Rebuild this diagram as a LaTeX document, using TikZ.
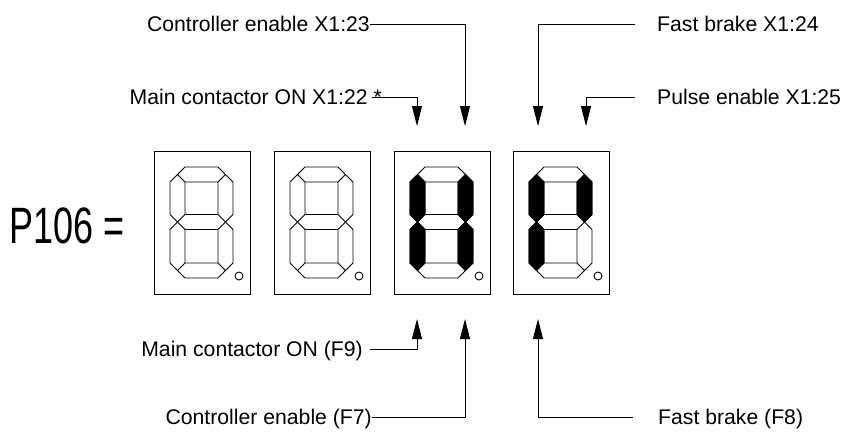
\documentclass[tikz,border=0pt]{standalone}
\usepackage{fontspec}
\setmainfont{Liberation Sans}
\usetikzlibrary{arrows.meta}
\newcommand\hseg[1]{(23.5,#1) -- ++(7.5,-7.5) -- ++(33,0) -- ++(7.5,7.5) -- ++(-7.5,7.5) -- ++(-33,0) -- cycle}
\newcommand\vseg[3]{(#1,#2) -- ++(7.5,7.5) -- ({#1+7.5},{#3-7.5}) -- (#1,#3) -- ({#1-7.5},{#3-7.5}) -- ({#1-7.5},{#2+7.5}) -- cycle}
\newcommand\allsegs{\hseg{23.5} \hseg{71} \hseg{119.5} \vseg{23.5}{23.5}{71} \vseg{23.5}{71}{119.5} \vseg{71.5}{23.5}{71} \vseg{71.5}{71}{119.5}}
\begin{document}
\begin{tikzpicture}[x=1pt,y=-1pt,
  dbox/.style={draw, line width=1.2pt, minimum width=96pt, minimum height=143pt, inner sep=0pt, anchor=north west},
  segline/.style={line width=0.9pt, line join=miter},
  lbl/.style={font=\fontsize{21.2}{24}\selectfont, inner sep=0pt, text height=15pt, text depth=0pt},
  arr/.style={line width=0.9pt, -{Triangle[length=20pt,width=10pt]}}]
\fill[white] (0,0) rectangle (845,432);
\useasboundingbox (0,0) rectangle (845,432);
% displays
\foreach \bx/\nm in {154/d1,274/d2,394/d3,513/d4}{
  \node[dbox] (\nm) at (\bx,151) {};
  \begin{scope}[shift={(\bx,151)}]
    \draw[segline] \allsegs;
    \draw[line width=0.9pt] (85,125) circle[radius=4];
  \end{scope}
}
\begin{scope}[shift={(394,151)}]
  \fill[draw=black, segline] \vseg{23.5}{23.5}{71} \vseg{23.5}{71}{119.5} \vseg{71.5}{23.5}{71} \vseg{71.5}{71}{119.5};
\end{scope}
\begin{scope}[shift={(513,151)}]
  \fill[draw=black, segline] \vseg{23.5}{23.5}{71} \vseg{23.5}{71}{119.5} \vseg{71.5}{23.5}{71};
\end{scope}
% P106
\node[anchor=base west, inner sep=0pt, font=\fontsize{36}{40}\selectfont] (p106) at (9,243) {\scalebox{1}[1.42]{P106 =}};
% labels
\node[lbl, anchor=east] (ce1) at (370,24) {Controller enable X1:23};
\node[lbl, anchor=east] (mc1) at (382,97) {Main contactor ON X1:22 *};
\node[lbl, anchor=west] (fb1) at (657,24) {Fast brake X1:24};
\node[lbl, anchor=west] (pe1) at (657,97) {Pulse enable X1:25};
\node[lbl, anchor=east] (mc2) at (363,349) {Main contactor ON (F9)};
\node[lbl, anchor=east] (ce2) at (372,417) {Controller enable (F7)};
\node[lbl, anchor=west] (fb2) at (658,417) {Fast brake (F8)};
% arrow tips
\coordinate (t1) at (417,126);
\coordinate (t2) at (465,126);
\coordinate (t3) at (538,126);
\coordinate (t4) at (586,126);
\coordinate (b1) at (417,319);
\coordinate (b2) at (465,319);
\coordinate (b3) at (538,319);
% connectors
\draw[arr, shorten <=-10pt] (mc1.east) -| (t1);
\draw[arr] (ce1.east) -| (t2);
\draw[arr, shorten <=22pt] (fb1.west) -| (t3);
\draw[arr, shorten <=22pt] (pe1.west) -| (t4);
\draw[arr, shorten <=7pt] (mc2.east) -| (b1);
\draw[arr] (ce2.east) -| (b2);
\draw[arr, shorten <=25pt] (fb2.west) -| (b3);
\end{tikzpicture}
\end{document}
